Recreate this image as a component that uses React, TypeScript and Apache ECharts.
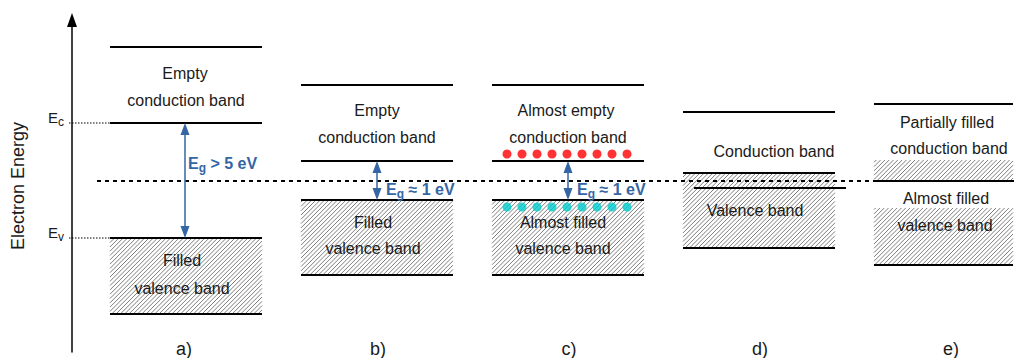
import React, { useEffect, useRef } from "react";
import * as echarts from "echarts";

const FONT = '"Liberation Sans", Arial, sans-serif';
const TEXT = "#1a1a1a";
const BLUE = "#3465a4";
const HATCH = "#5c5c5c";

// Energy scale: 0 at the foot of the energy axis, one unit per pixel upward.
const panelLabels = ["a)", "b)", "c)", "d)", "e)"];
const panelCenters = [184, 378, 569, 760, 951];

const fermiLevel = 171;

// Solid band edges: [xStart, xEnd, energy]
const bandEdges: number[][] = [
  [110, 262, 305], [110, 262, 229], [110, 262, 114], [110, 262, 38],
  [301, 453, 267], [301, 453, 191], [301, 453, 152], [301, 453, 77],
  [492, 644, 267], [492, 644, 191], [492, 644, 152], [492, 644, 77],
  [683, 835, 240], [683, 835, 179], [694, 846, 164], [683, 835, 104],
  [874, 1013, 248], [874, 1014, 171], [874, 1013, 87],
];

// Occupied (hatched) energy ranges: [xStart, xEnd, upper, lower]
const filledBands: number[][] = [
  [110, 262, 114, 38],
  [301, 453, 152, 77],
  [492, 644, 152, 77],
  [683, 835, 179, 104],
  [874, 1013, 192, 171],
  [874, 1013, 144, 87],
];

// Band gaps: [x, valence edge, conduction edge]
const gapArrows: number[][] = [
  [185, 114, 229],
  [377, 152, 191],
  [568, 152, 191],
];
const gapLabels = ["> 5 eV", "\u2248 1 eV", "\u2248 1 eV"];
const gapLabelAnchors = [[188, 189], [386, 163], [577, 163]];

// Thermally excited carriers (panel c)
const electronX = [507, 522, 537, 552, 567, 582, 597, 612, 627];
const electronEnergy = 198;
const holeX = [507, 522, 537, 552, 567, 582, 597, 612, 627];
const holeEnergy = 145;

// Reference levels marked on the energy axis
const levelNames = ["c", "v"];
const levelEnergies = [229, 114];

// Band captions: [text, x, energy]
const bandTexts: [string, number, number][] = [
  ["Empty", 185, 279],
  ["conduction band", 186, 252],
  ["Filled", 182, 92],
  ["valence band", 182, 64],
  ["Empty", 377, 242],
  ["conduction band", 377, 215],
  ["Filled", 373, 130],
  ["valence band", 373, 104],
  ["Almost empty", 566, 242],
  ["conduction band", 568, 215],
  ["Almost filled", 563, 130],
  ["valence band", 563, 104],
  ["Conduction band", 774, 201],
  ["Valence band", 755, 142],
  ["Partially filled", 947, 230],
  ["conduction band", 949, 204],
  ["Almost filled", 946, 154],
  ["valence band", 945, 127],
];

let measureCtx: CanvasRenderingContext2D | null = null;
function textWidth(text: string, font: string): number {
  if (!measureCtx) measureCtx = document.createElement("canvas").getContext("2d");
  if (!measureCtx) return text.length * 7;
  measureCtx.font = font;
  return measureCtx.measureText(text).width;
}

function hatchLines(x0: number, y0: number, x1: number, y1: number, step: number) {
  const out: any[] = [];
  const cStart = Math.ceil((x0 + y0) / step) * step;
  for (let c = cStart; c <= x1 + y1; c += step) {
    const sx = Math.max(x0, c - y1);
    const ex = Math.min(x1, c - y0);
    if (ex - sx > 0.3) {
      out.push({
        type: "line",
        shape: { x1: sx, y1: c - sx, x2: ex, y2: c - ex },
        style: { stroke: HATCH, lineWidth: 0.8 },
      });
    }
  }
  return out;
}

function subscripted(x: number, y: number, main: string, sub: string, rest: string,
  mainFont: string, subFont: string, color: string, subDrop: number) {
  const wMain = textWidth(main, mainFont);
  const wSub = textWidth(sub, subFont);
  const children: any[] = [
    { type: "text", x, y, style: { text: main, font: mainFont, fill: color, align: "left", verticalAlign: "middle" } },
    { type: "text", x: x + wMain, y: y + subDrop, style: { text: sub, font: subFont, fill: color, align: "left", verticalAlign: "middle" } },
  ];
  if (rest) {
    children.push({ type: "text", x: x + wMain + wSub, y, style: { text: rest, font: mainFont, fill: color, align: "left", verticalAlign: "middle" } });
  }
  return { type: "group", children };
}

export default function App() {
  const ref = useRef<HTMLDivElement>(null);

  useEffect(() => {
    if (!ref.current) return;
    const chart = echarts.init(ref.current, null, { renderer: "svg" });

    const option: any = {
      animation: false,
      backgroundColor: "#ffffff",
      grid: { left: 72, right: 0, top: 20, bottom: 6 },
      xAxis: { type: "value", min: 72, max: 1014, show: false },
      yAxis: {
        type: "value",
        min: 0,
        max: 332,
        axisLine: {
          show: true,
          onZero: false,
          symbol: ["none", "triangle"],
          symbolSize: [10, 14],
          lineStyle: { color: "#000", width: 1.5 },
        },
        axisTick: { show: false },
        axisLabel: { show: false },
        splitLine: { show: false },
        name: "Electron Energy",
        nameLocation: "middle",
        nameGap: 45,
        nameRotate: 90,
        nameTextStyle: { fontSize: 18, color: TEXT, fontFamily: FONT },
      },
      series: [
        {
          // hatched (occupied) states
          type: "custom",
          silent: true,
          clip: false,
          data: filledBands,
          encode: { x: [0, 1], y: [2, 3] },
          renderItem: (params: any, api: any) => {
            const b = filledBands[params.dataIndex];
            const p0 = api.coord([b[0], b[2]]);
            const p1 = api.coord([b[1], b[3]]);
            return { type: "group", children: hatchLines(p0[0], p0[1], p1[0], p1[1], 4.3) };
          },
          z: 1,
        },
        {
          // Fermi level
          type: "custom",
          silent: true,
          clip: false,
          data: [[fermiLevel]],
          renderItem: (params: any, api: any) => {
            const a = api.coord([97, fermiLevel]);
            const b = api.coord([874, fermiLevel]);
            return {
              type: "line",
              shape: { x1: a[0], y1: a[1], x2: b[0], y2: b[1] },
              style: { stroke: "#000", lineWidth: 2, lineDash: [4, 4] },
            };
          },
          z: 2,
        },
        {
          // dotted markers from the axis to the reference levels
          type: "custom",
          silent: true,
          clip: false,
          data: levelEnergies.map((e) => [e]),
          renderItem: (params: any, api: any) => {
            const e = levelEnergies[params.dataIndex];
            const a = api.coord([69, e]);
            const b = api.coord([110, e]);
            return {
              type: "group",
              children: [
                {
                  type: "line",
                  shape: { x1: a[0], y1: a[1], x2: b[0], y2: b[1] },
                  style: { stroke: "#000", lineWidth: 1, lineDash: [1.5, 1.5] },
                },
                subscripted(a[0] - 21, a[1] - 6, "E", levelNames[params.dataIndex], "",
                  `15px ${FONT}`, `12px ${FONT}`, TEXT, 5),
              ],
            };
          },
          z: 2,
        },
        {
          // band edges
          type: "custom",
          silent: true,
          clip: false,
          data: bandEdges,
          encode: { x: [0, 1], y: 2 },
          renderItem: (params: any, api: any) => {
            const b = bandEdges[params.dataIndex];
            const a = api.coord([b[0], b[2]]);
            const c = api.coord([b[1], b[2]]);
            return {
              type: "line",
              shape: { x1: a[0], y1: a[1], x2: c[0], y2: c[1] },
              style: { stroke: "#000", lineWidth: 2 },
            };
          },
          z: 3,
        },
        {
          // band-gap arrows and labels
          type: "custom",
          silent: true,
          clip: false,
          data: gapArrows,
          encode: { x: 0, y: [1, 2] },
          renderItem: (params: any, api: any) => {
            const g = gapArrows[params.dataIndex];
            const lo = api.coord([g[0], g[1]]);
            const hi = api.coord([g[0], g[2]]);
            const hw = 4.5;
            const hl = 12;
            const anchor = api.coord(gapLabelAnchors[params.dataIndex]);
            return {
              type: "group",
              children: [
                {
                  type: "line",
                  shape: { x1: lo[0], y1: lo[1] - hl + 1, x2: hi[0], y2: hi[1] + hl - 1 },
                  style: { stroke: BLUE, lineWidth: 1.5 },
                },
                {
                  type: "polygon",
                  shape: { points: [[hi[0], hi[1]], [hi[0] - hw, hi[1] + hl], [hi[0] + hw, hi[1] + hl]] },
                  style: { fill: BLUE },
                },
                {
                  type: "polygon",
                  shape: { points: [[lo[0], lo[1]], [lo[0] - hw, lo[1] - hl], [lo[0] + hw, lo[1] - hl]] },
                  style: { fill: BLUE },
                },
                subscripted(anchor[0], anchor[1], "E", "g", " " + gapLabels[params.dataIndex],
                  `bold 16px ${FONT}`, `bold 12px ${FONT}`, BLUE, 5),
              ],
            };
          },
          z: 4,
        },
        {
          type: "scatter",
          silent: true,
          symbol: "circle",
          symbolSize: 9,
          itemStyle: { color: "#ff0000" },
          data: electronX.map((x) => [x, electronEnergy]),
          z: 5,
        },
        {
          type: "scatter",
          silent: true,
          symbol: "circle",
          symbolSize: 9,
          itemStyle: { color: "#00cccc" },
          data: holeX.map((x) => [x, holeEnergy]),
          z: 5,
        },
        {
          // band captions
          type: "custom",
          silent: true,
          clip: false,
          data: bandTexts.map((t) => [t[1], t[2]]),
          renderItem: (params: any, api: any) => {
            const t = bandTexts[params.dataIndex];
            const p = api.coord([t[1], t[2]]);
            return {
              type: "text",
              x: p[0],
              y: p[1],
              style: { text: t[0], font: `16px ${FONT}`, fill: TEXT, align: "center", verticalAlign: "middle" },
            };
          },
          z: 6,
        },
        {
          // panel letters
          type: "custom",
          silent: true,
          clip: false,
          data: panelCenters.map((x) => [x, 3]),
          renderItem: (params: any, api: any) => {
            const p = api.coord([panelCenters[params.dataIndex], 3]);
            return {
              type: "text",
              x: p[0],
              y: p[1],
              style: { text: panelLabels[params.dataIndex], font: `18px ${FONT}`, fill: TEXT, align: "center", verticalAlign: "middle" },
            };
          },
          z: 6,
        },
      ],
    };

    chart.setOption(option);
    return () => chart.dispose();
  }, []);

  return (
    <div
      ref={ref}
      style={{ position: "fixed", left: 0, top: 0, width: 1014, height: 358, background: "#fff" }}
    />
  );
}
